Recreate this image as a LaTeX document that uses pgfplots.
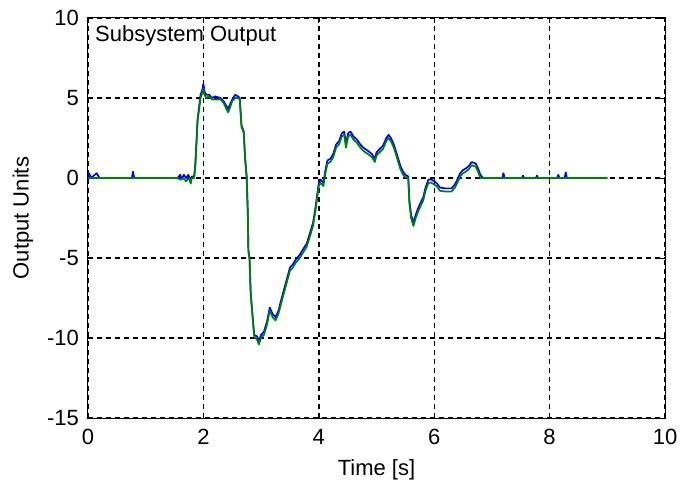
\documentclass[border=0pt]{standalone}
\usepackage{pgfplots}
\pgfplotsset{compat=1.18}
\usepackage{fontspec}
\setmainfont{Liberation Sans}
\definecolor{trBlue}{RGB}{0,0,255}
\definecolor{trGreen}{RGB}{0,128,0}

\begin{document}
\begin{tikzpicture}[font=\fontsize{22bp}{26bp}\selectfont]
\begin{axis}[
  name=ax,
  scale only axis,
  width=577bp, height=400bp,
  xmin=0, xmax=10, ymin=-15, ymax=10,
  xtick={0,2,4,6,8,10},
  xticklabels={0,2,4,6,8,10},
  ytick={-15,-10,-5,0,5,10},
  yticklabels={-15,-10,-5,0,5,10},
  tick align=inside,
  major tick length=5bp,
  tick style={black, line width=0.8bp},
  axis line style={black, line width=1bp},
  grid=major,
  major grid style={black, line width=1.4bp, dash pattern=on 5bp off 4bp},
  xticklabel style={inner sep=0pt, anchor=north, yshift=-11bp},
  yticklabel style={inner sep=0pt, anchor=east, xshift=-9bp},
  xlabel={Time [s]},
  ylabel={Output Units},
  xlabel style={at={([yshift=-51.5bp]rel axis cs:0.5,0)}, anchor=center, inner sep=0pt},
  ylabel style={at={([xshift=-65bp]rel axis cs:0,0.5)}, anchor=center, inner sep=0pt, rotate=0},
  clip=true,
]
% measured signal
\addplot[trBlue, line width=1.7bp, line join=round] coordinates {
(0,0) (0.02,0.3) (0.05,0) (0.15,0.3) (0.2,0) (0.76,0) (0.78,0.4) (0.8,0)
(1.55,0) (1.6,0.2) (1.62,-0.1) (1.66,0.2) (1.7,0) (1.74,0.2) (1.78,-0.2) (1.8,0.1)
(1.84,0.1) (1.86,0.9) (1.9,3.7) (1.93,4.6) (1.95,5.2) (1.98,5.5) (2.0,5.9) (2.02,5.4)
(2.05,5.2) (2.1,5.2) (2.15,5.0) (2.2,5.1) (2.3,5.0) (2.35,4.8) (2.4,4.5) (2.43,4.3)
(2.46,4.6) (2.5,4.9) (2.55,5.2) (2.6,5.1) (2.63,5.0) (2.66,3.3) (2.7,2.9) (2.72,1.4)
(2.75,0.1) (2.77,-2.2) (2.78,-4.5) (2.8,-5.0) (2.82,-7.2) (2.85,-8.5) (2.88,-9.8) (2.93,-9.9)
(2.96,-10.2) (3.0,-9.8) (3.05,-9.6) (3.1,-9.0) (3.15,-8.1) (3.2,-8.5) (3.25,-8.7) (3.3,-8.3)
(3.35,-7.6) (3.41,-6.8) (3.47,-6.0) (3.5,-5.6) (3.55,-5.4) (3.6,-5.1) (3.67,-4.8) (3.72,-4.5)
(3.79,-4.1) (3.85,-3.4) (3.9,-2.8) (3.94,-1.9) (3.97,-1.1) (4.0,-0.3) (4.03,-0.1) (4.08,-0.3)
(4.12,0.6) (4.15,1.1) (4.2,1.2) (4.25,1.5) (4.3,2.1) (4.35,2.3) (4.4,2.8) (4.44,2.9)
(4.47,2.2) (4.51,2.8) (4.55,2.9) (4.6,2.6) (4.66,2.4) (4.72,2.1) (4.77,1.9) (4.85,1.7)
(4.92,1.5) (4.97,1.2) (5.0,1.6) (5.05,1.8) (5.11,2.0) (5.17,2.5) (5.21,2.7) (5.25,2.5)
(5.3,2.1) (5.36,1.4) (5.41,0.8) (5.46,0.4) (5.5,0.2) (5.55,0.1) (5.57,-1.4) (5.6,-2.3)
(5.64,-2.8) (5.68,-2.3) (5.72,-1.9) (5.77,-1.5) (5.81,-1.2) (5.85,-0.6) (5.9,-0.1) (5.95,-0.1)
(6.0,-0.2) (6.05,-0.35) (6.1,-0.6) (6.2,-0.65) (6.3,-0.65) (6.36,-0.4) (6.4,-0.1) (6.45,0.3)
(6.5,0.5) (6.55,0.6) (6.6,0.75) (6.65,1.0) (6.72,0.9) (6.76,0.6) (6.8,0.2) (6.85,0)
(7.18,0) (7.2,0.3) (7.22,0) (7.52,0) (7.54,0.15) (7.56,0) (7.76,0) (7.78,0.15) (7.8,0)
(8.13,0) (8.15,0.2) (8.17,0) (8.26,0) (8.28,0.35) (8.3,0) (9.0,0)
};
% filtered signal
\addplot[trGreen, line width=1.7bp, line join=round] coordinates {
(0,0) (1.55,0) (1.6,-0.1) (1.65,0) (1.7,-0.2) (1.75,0) (1.78,-0.35) (1.8,0)
(1.84,0) (1.86,0.7) (1.9,3.6) (1.93,4.4) (1.95,5.0) (1.98,5.3) (2.0,5.6) (2.02,5.2)
(2.05,5.0) (2.1,5.1) (2.15,4.9) (2.2,4.9) (2.3,4.9) (2.35,4.7) (2.4,4.3) (2.43,4.1)
(2.46,4.4) (2.5,4.8) (2.55,5.0) (2.6,5.0) (2.63,4.9) (2.66,3.2) (2.7,2.8) (2.72,1.3)
(2.75,0) (2.77,-2.3) (2.78,-4.6) (2.8,-5.1) (2.82,-7.3) (2.85,-8.6) (2.88,-9.9) (2.93,-10.1)
(2.96,-10.4) (3.0,-10.0) (3.05,-9.8) (3.1,-9.2) (3.15,-8.3) (3.2,-8.7) (3.25,-8.9) (3.3,-8.5)
(3.35,-7.8) (3.41,-7.0) (3.47,-6.2) (3.5,-5.8) (3.55,-5.6) (3.6,-5.3) (3.67,-5.0) (3.72,-4.7)
(3.79,-4.3) (3.85,-3.6) (3.9,-3.0) (3.94,-2.1) (3.97,-1.3) (4.0,-0.5) (4.03,-0.3) (4.08,-0.5)
(4.12,0.4) (4.15,0.9) (4.2,1.0) (4.25,1.3) (4.3,1.9) (4.35,2.1) (4.4,2.6) (4.44,2.7)
(4.47,1.9) (4.51,2.6) (4.55,2.7) (4.6,2.4) (4.66,2.2) (4.72,1.9) (4.77,1.7) (4.85,1.5)
(4.92,1.3) (4.97,1.0) (5.0,1.4) (5.05,1.6) (5.11,1.8) (5.17,2.3) (5.21,2.5) (5.25,2.3)
(5.3,1.9) (5.36,1.2) (5.41,0.6) (5.46,0.2) (5.5,0.05) (5.55,0) (5.57,-1.6) (5.6,-2.5)
(5.64,-3.0) (5.68,-2.5) (5.72,-2.1) (5.77,-1.7) (5.81,-1.4) (5.85,-0.8) (5.9,-0.3) (5.95,-0.3)
(6.0,-0.4) (6.05,-0.55) (6.1,-0.8) (6.2,-0.85) (6.3,-0.85) (6.36,-0.6) (6.4,-0.3) (6.45,0.1)
(6.5,0.3) (6.55,0.4) (6.6,0.55) (6.65,0.8) (6.72,0.7) (6.76,0.4) (6.8,0) (9.0,0)
};
\node[anchor=north west, inner sep=0pt] at ([xshift=7bp,yshift=-7bp]rel axis cs:0,1) {Subsystem Output};
\end{axis}
\pgfresetboundingbox
\path[use as bounding box] ([xshift=-88bp,yshift=-65bp]ax.south west) rectangle ([xshift=18bp,yshift=18bp]ax.north east);
\end{tikzpicture}
\end{document}
